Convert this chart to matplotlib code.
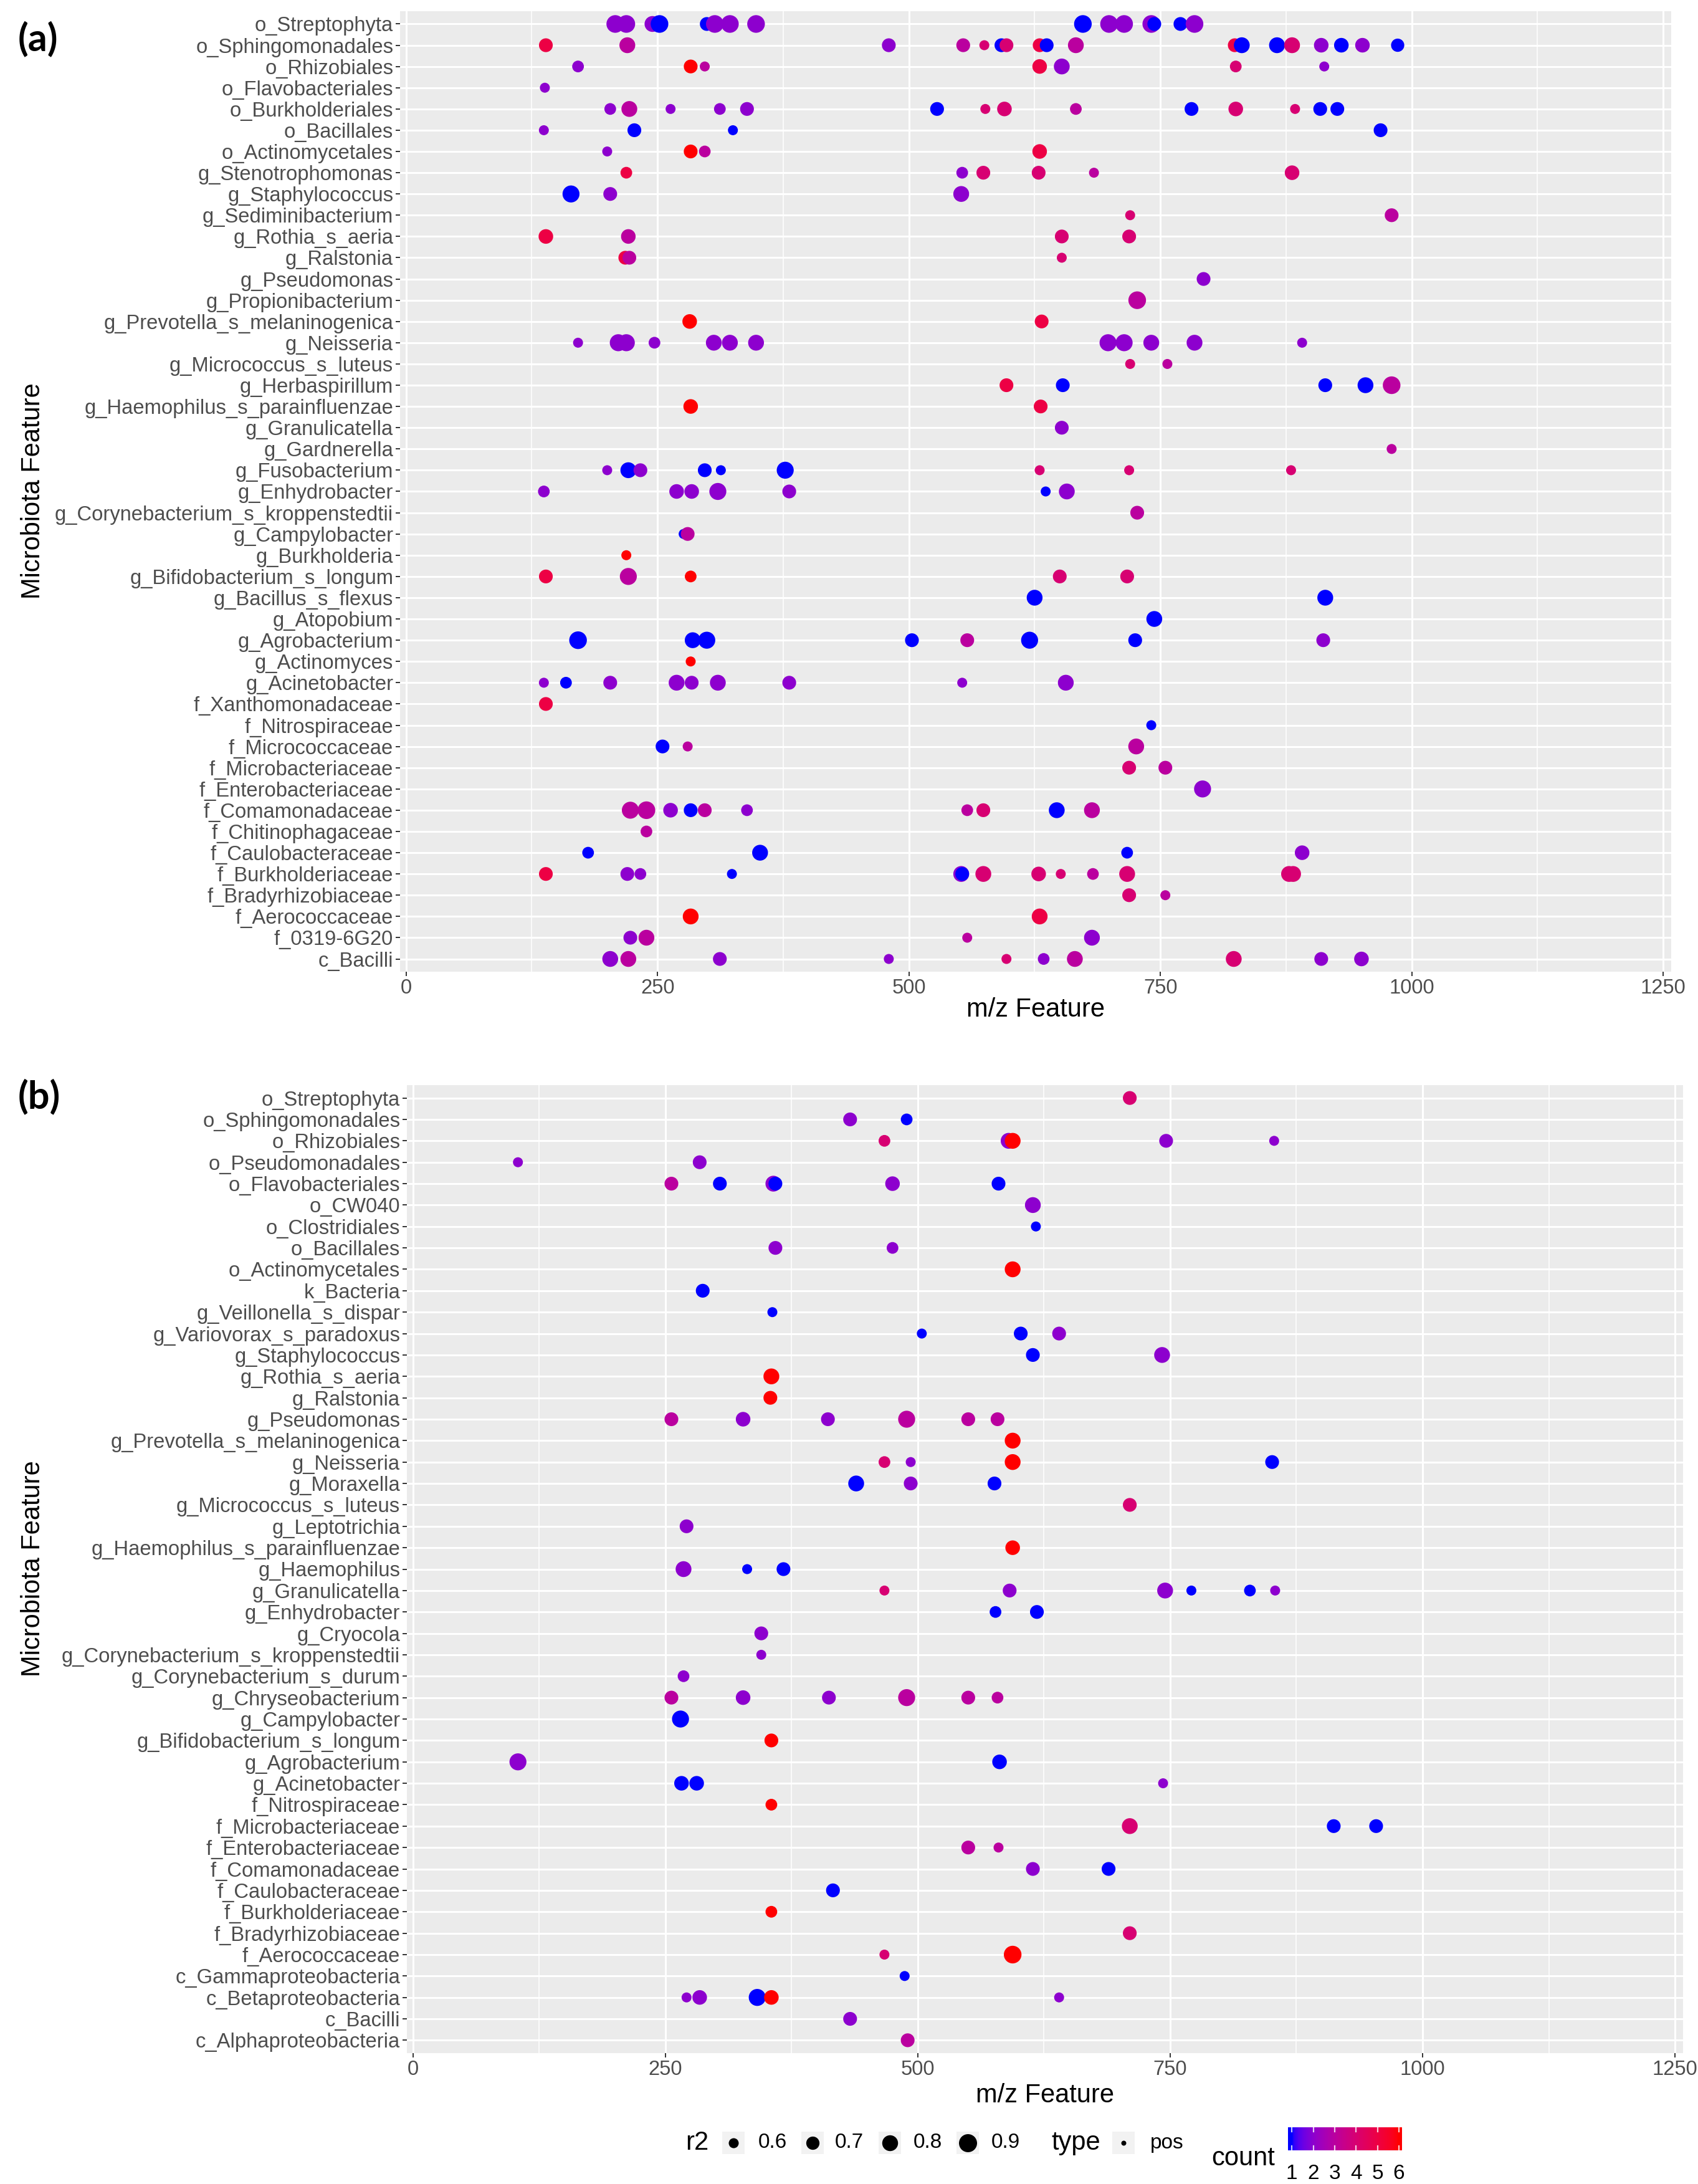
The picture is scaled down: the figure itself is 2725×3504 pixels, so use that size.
import numpy as np
import matplotlib
matplotlib.use("Agg")
import matplotlib.pyplot as plt
import matplotlib.colors as mcolors

plt.rcParams['font.family'] = ['Liberation Sans', 'DejaVu Sans']

# ---------------- panel (a) ----------------
a_labels = ['o_Streptophyta', 'o_Sphingomonadales', 'o_Rhizobiales', 'o_Flavobacteriales',
            'o_Burkholderiales', 'o_Bacillales', 'o_Actinomycetales', 'g_Stenotrophomonas',
            'g_Staphylococcus', 'g_Sediminibacterium', 'g_Rothia_s_aeria', 'g_Ralstonia',
            'g_Pseudomonas', 'g_Propionibacterium', 'g_Prevotella_s_melaninogenica', 'g_Neisseria',
            'g_Micrococcus_s_luteus', 'g_Herbaspirillum', 'g_Haemophilus_s_parainfluenzae',
            'g_Granulicatella', 'g_Gardnerella', 'g_Fusobacterium', 'g_Enhydrobacter',
            'g_Corynebacterium_s_kroppenstedtii', 'g_Campylobacter', 'g_Burkholderia',
            'g_Bifidobacterium_s_longum', 'g_Bacillus_s_flexus', 'g_Atopobium', 'g_Agrobacterium',
            'g_Actinomyces', 'g_Acinetobacter', 'f_Xanthomonadaceae', 'f_Nitrospiraceae',
            'f_Micrococcaceae', 'f_Microbacteriaceae', 'f_Enterobacteriaceae', 'f_Comamonadaceae',
            'f_Chitinophagaceae', 'f_Caulobacteraceae', 'f_Burkholderiaceae', 'f_Bradyrhizobiaceae',
            'f_Aerococcaceae', 'f_0319-6G20', 'c_Bacilli']

# number of points drawn on each row (top to bottom)
a_npts = [15, 18, 7, 1, 14, 4, 4, 6, 3, 2, 4, 3, 1, 1, 2, 12, 2, 5, 2, 1, 1, 9, 7,
          1, 2, 1, 5, 2, 1, 8, 1, 9, 1, 1, 3, 2, 1, 10, 1, 4, 13, 2, 2, 4, 10]

a_mz = [208, 219, 245, 252, 299, 307, 322, 348, 673, 699, 714, 741, 744, 770, 784,
        139, 220, 480, 554, 575, 592, 597, 630, 637, 666, 824, 831, 866, 881, 910, 930, 951, 986,
        171, 283, 297, 630, 652, 825, 913,
        138,
        203, 222, 263, 312, 339, 528, 576, 595, 666, 781, 825, 884, 909, 926,
        137, 227, 325, 969,
        200, 283, 297, 630,
        219, 553, 574, 629, 684, 881,
        164, 203, 552,
        720, 980,
        139, 221, 652, 719,
        218, 222, 652,
        793,
        727,
        282, 632,
        171, 211, 219, 247, 306, 322, 348, 698, 714, 741, 784, 891,
        720, 757,
        597, 653, 914, 954, 980,
        283, 631,
        652,
        980,
        200, 221, 233, 297, 313, 377, 630, 719, 880,
        137, 269, 284, 310, 381, 636, 657,
        727,
        276, 280,
        219,
        139, 221, 283, 650, 717,
        625, 914,
        744,
        171, 285, 299, 503, 558, 620, 725, 912,
        283,
        137, 159, 203, 269, 284, 310, 381, 553, 656,
        139,
        741,
        255, 280, 726,
        719, 755,
        792,
        223, 239, 263, 283, 297, 339, 558, 574, 647, 682,
        239,
        181, 352, 717, 891,
        139, 220, 233, 324, 552, 553, 574, 629, 651, 683, 717, 878, 882,
        719, 755,
        283, 630,
        223, 239, 558, 682,
        203, 221, 312, 480, 597, 634, 665, 823, 910, 950]

a_r2 = [.88, .88, .8, .88, .72, .88, .88, .88, .88, .88, .88, .88, .72, .72, .88,
        .72, .8, .72, .72, .6, .72, .72, .72, .72, .8, .72, .8, .8, .8, .75, .75, .75, .7,
        .65, .72, .6, .75, .8, .65, .6,
        .6,
        .65, .8, .6, .65, .72, .72, .6, .75, .65, .72, .75, .6, .72, .72,
        .6, .72, .6, .72,
        .6, .72, .65, .75,
        .65, .65, .72, .72, .6, .75,
        .85, .72, .8,
        .6, .72,
        .75, .75, .72, .72,
        .72, .72, .6,
        .72,
        .88,
        .75, .72,
        .6, .85, .85, .65, .8, .8, .8, .85, .85, .8, .8, .6,
        .6, .6,
        .72, .72, .72, .8, .88,
        .75, .72,
        .72,
        .6,
        .6, .8, .72, .72, .6, .85, .6, .6, .6,
        .65, .75, .75, .85, .72, .6, .8,
        .72,
        .6, .72,
        .6,
        .72, .85, .65, .72, .72,
        .8, .8,
        .8,
        .88, .8, .85, .72, .72, .85, .72, .72,
        .6,
        .6, .65, .72, .8, .72, .8, .72, .6, .8,
        .72,
        .6,
        .72, .6, .8,
        .72, .72,
        .85,
        .85, .88, .75, .72, .72, .65, .65, .72, .8, .8,
        .65,
        .65, .8, .65, .75,
        .72, .72, .65, .6, .8, .72, .8, .75, .6, .65, .8, .8, .8,
        .72, .6,
        .8, .8,
        .72, .8, .6, .8,
        .8, .8, .72, .6, .6, .65, .8, .8, .72, .75]

a_count = [2, 2, 2, 1, 1, 2, 2, 2, 1, 2, 2, 2, 1, 1, 2,
           5, 3, 2, 3, 4, 1, 4, 5, 1, 3, 5, 1, 1, 4, 2, 1, 2, 1,
           2, 6, 3, 5, 2, 4, 2,
           2,
           2, 3, 2, 2, 2, 1, 4, 4, 3, 1, 4, 4, 1, 1,
           2, 1, 1, 1,
           2, 6, 3, 5,
           5, 2, 4, 4, 3, 4,
           1, 2, 2,
           4, 3,
           5, 3, 4, 4,
           5, 3, 4,
           2,
           3,
           6, 5,
           2, 2, 2, 2, 2, 2, 2, 2, 2, 2, 2, 2,
           4, 3,
           5, 1, 1, 1, 3,
           6, 5,
           2,
           3,
           2, 1, 2, 1, 1, 1, 4, 4, 4,
           2, 2, 2, 2, 2, 1, 2,
           3,
           1, 3,
           6,
           5, 3, 6, 4, 4,
           1, 1,
           1,
           1, 1, 1, 1, 3, 1, 1, 2,
           6,
           2, 1, 2, 2, 2, 2, 2, 2, 2,
           5,
           1,
           1, 3, 3,
           4, 3,
           2,
           3, 3, 2, 1, 3, 2, 3, 4, 1, 3,
           3,
           1, 1, 1, 2,
           5, 2, 2, 1, 2, 1, 4, 4, 4, 3, 4, 4, 4,
           4, 3,
           6, 5,
           2, 3, 3, 2,
           2, 3, 2, 2, 4, 2, 3, 4, 2, 2]

# ---------------- panel (b) ----------------
b_labels = ['o_Streptophyta', 'o_Sphingomonadales', 'o_Rhizobiales', 'o_Pseudomonadales',
            'o_Flavobacteriales', 'o_CW040', 'o_Clostridiales', 'o_Bacillales', 'o_Actinomycetales',
            'k_Bacteria', 'g_Veillonella_s_dispar', 'g_Variovorax_s_paradoxus', 'g_Staphylococcus',
            'g_Rothia_s_aeria', 'g_Ralstonia', 'g_Pseudomonas', 'g_Prevotella_s_melaninogenica',
            'g_Neisseria', 'g_Moraxella', 'g_Micrococcus_s_luteus', 'g_Leptotrichia',
            'g_Haemophilus_s_parainfluenzae', 'g_Haemophilus', 'g_Granulicatella', 'g_Enhydrobacter',
            'g_Cryocola', 'g_Corynebacterium_s_kroppenstedtii', 'g_Corynebacterium_s_durum',
            'g_Chryseobacterium', 'g_Campylobacter', 'g_Bifidobacterium_s_longum', 'g_Agrobacterium',
            'g_Acinetobacter', 'f_Nitrospiraceae', 'f_Microbacteriaceae', 'f_Enterobacteriaceae',
            'f_Comamonadaceae', 'f_Caulobacteraceae', 'f_Burkholderiaceae', 'f_Bradyrhizobiaceae',
            'f_Aerococcaceae', 'c_Gammaproteobacteria', 'c_Betaproteobacteria', 'c_Bacilli',
            'c_Alphaproteobacteria']

b_npts = [1, 2, 5, 2, 6, 1, 1, 2, 1, 1, 1, 3, 2, 1, 1, 6, 1, 4, 3, 1, 1, 1, 3,
          6, 2, 1, 1, 1, 6, 1, 1, 2, 3, 1, 3, 2, 2, 1, 1, 1, 2, 1, 5, 1, 1]

b_mz = [710,
        433, 489,
        467, 590, 594, 746, 853,
        104, 284,
        256, 304, 357, 359, 475, 580,
        614,
        617,
        359, 475,
        594,
        287,
        356,
        504, 602, 640,
        614, 742,
        355,
        354,
        256, 327, 411, 489, 550, 579,
        594,
        467, 493, 594, 851,
        439, 493, 576,
        710,
        271,
        594,
        268, 331, 367,
        467, 591, 745, 771, 829, 854,
        577, 618,
        345,
        345,
        268,
        256, 327, 412, 489, 550, 579,
        265,
        355,
        104, 581,
        266, 281, 743,
        355,
        710, 912, 954,
        550, 580,
        614, 689,
        416,
        355,
        710,
        467, 594,
        487,
        271, 284, 341, 355, 640,
        433,
        490]

b_r2 = [.72,
        .72, .65,
        .65, .8, .8, .72, .6,
        .6, .72,
        .72, .72, .8, .72, .75, .72,
        .8,
        .6,
        .72, .65,
        .8,
        .72,
        .6,
        .6, .72, .72,
        .72, .8,
        .8,
        .72,
        .72, .75, .72, .85, .72, .72,
        .8,
        .65, .6, .8, .72,
        .8, .72, .72,
        .72,
        .72,
        .75,
        .8, .6, .72,
        .6, .72, .8, .6, .65, .6,
        .65, .72,
        .72,
        .6,
        .65,
        .72, .75, .72, .85, .72, .65,
        .85,
        .72,
        .85, .75,
        .75, .75, .6,
        .65,
        .8, .72, .72,
        .72, .6,
        .72, .72,
        .72,
        .65,
        .72,
        .6, .88,
        .6,
        .6, .75, .85, .75, .6,
        .72,
        .72]

b_count = [4,
           2, 1,
           4, 2, 6, 2, 2,
           2, 2,
           3, 1, 2, 1, 2, 1,
           2,
           1,
           2, 2,
           6,
           1,
           1,
           1, 1, 2,
           1, 2,
           6,
           6,
           3, 2, 2, 3, 3, 3,
           6,
           4, 2, 6, 1,
           1, 2, 1,
           4,
           2,
           6,
           2, 1, 1,
           4, 2, 2, 1, 1, 2,
           1, 1,
           2,
           2,
           2,
           3, 2, 2, 3, 3, 3,
           1,
           6,
           2, 1,
           1, 1, 2,
           6,
           4, 1, 1,
           3, 3,
           2, 1,
           1,
           6,
           4,
           4, 6,
           1,
           2, 2, 1, 6, 2,
           2,
           3]

# legend values
r2_breaks = [0.6, 0.7, 0.8, 0.9]
count_breaks = [1, 2, 3, 4, 5, 6]


# blue -> red gradient interpolated in Lab space (like ggplot's default gradient)
WHITE = np.array([0.95047, 1.0, 1.08883])
M_RGB2XYZ = np.array([[0.4124, 0.3576, 0.1805],
                      [0.2126, 0.7152, 0.0722],
                      [0.0193, 0.1192, 0.9505]])

def to_lab(c):
    rgb = np.array(mcolors.to_rgb(c))
    lin = np.where(rgb <= 0.04045, rgb / 12.92, ((rgb + 0.055) / 1.055) ** 2.4)
    xyz = M_RGB2XYZ @ lin / WHITE
    d = 6 / 29
    f = np.where(xyz > d ** 3, np.cbrt(xyz), xyz / (3 * d * d) + 4 / 29)
    return np.array([116 * f[1] - 16, 500 * (f[0] - f[1]), 200 * (f[1] - f[2])])

def from_lab(lab):
    fy = (lab[0] + 16) / 116
    f = np.array([fy + lab[1] / 500, fy, fy - lab[2] / 200])
    d = 6 / 29
    xyz = np.where(f > d, f ** 3, 3 * d * d * (f - 4 / 29)) * WHITE
    lin = np.clip(np.linalg.solve(M_RGB2XYZ, xyz), 0, 1)
    return np.where(lin <= 0.0031308, 12.92 * lin, 1.055 * lin ** (1 / 2.4) - 0.055).clip(0, 1)

lab_lo, lab_hi = to_lab('blue'), to_lab('red')
grad = [from_lab(lab_lo + t * (lab_hi - lab_lo)) for t in np.linspace(0, 1, 256)]
cmap = mcolors.LinearSegmentedColormap.from_list('blue_red_lab', grad)
norm = mcolors.Normalize(vmin=1, vmax=6)

W, H, DPI = 2725, 3504, 200

def size_of(r2):
    # area grows linearly with r2: 16 px across at 0.6, 29 px at 0.9
    d_px = np.sqrt(16 ** 2 + (np.asarray(r2) - 0.6) / 0.3 * (29 ** 2 - 16 ** 2))
    return (d_px * 72 / DPI) ** 2

def box(x0, y0, x1, y1):
    return [x0 / W, 1 - y1 / H, (x1 - x0) / W, (y1 - y0) / H]

def draw_panel(ax, labels, npts, mz, r2, count):
    assert len(mz) == len(r2) == len(count) == sum(npts)
    rows = np.repeat(np.arange(len(labels)), npts)
    ax.set_facecolor('#EBEBEB')
    ax.scatter(mz, rows, s=size_of(r2), c=count, cmap=cmap, norm=norm,
               linewidths=0, zorder=3)
    ax.set_xlim(-6, 1258)
    ax.set_ylim(len(labels) - 0.4, -0.6)
    ax.set_xticks([0, 250, 500, 750, 1000, 1250])
    ax.set_xticks([125, 375, 625, 875, 1125], minor=True)
    ax.set_yticks(np.arange(len(labels)))
    ax.set_yticklabels(labels)
    ax.set_axisbelow(True)
    ax.grid(which='major', color='white', lw=1.1)
    ax.xaxis.grid(True, which='minor', color='white', lw=0.55)
    for sp in ax.spines.values():
        sp.set_visible(False)
    ax.tick_params(which='major', length=2.4, width=0.7, color='#333333',
                   labelcolor='#4D4D4D', labelsize=11.8, pad=1.5)
    ax.tick_params(which='minor', length=0)


fig = plt.figure(figsize=(W / DPI, H / DPI), dpi=DPI)

ax_a = fig.add_axes(box(642, 18, 2682, 1559))
draw_panel(ax_a, a_labels, a_npts, a_mz, a_r2, a_count)
ax_b = fig.add_axes(box(653, 1741, 2701, 3294))
draw_panel(ax_b, b_labels, b_npts, b_mz, b_r2, b_count)

def px(x, y):
    return x / W, 1 - y / H

# axis titles and panel letters
fig.text(*px(1662, 1620), 'm/z Feature', fontsize=15, ha='center', va='center')
fig.text(*px(1677, 3362), 'm/z Feature', fontsize=15, ha='center', va='center')
fig.text(*px(53, 788), 'Microbiota Feature', fontsize=15, rotation=90, ha='center', va='center')
fig.text(*px(53, 2517), 'Microbiota Feature', fontsize=15, rotation=90, ha='center', va='center')
fig.text(*px(29, 62), '(a)', fontsize=22, fontweight='bold', family=['Lato', 'DejaVu Sans'],
         ha='left', va='center')
fig.text(*px(29, 1759), '(b)', fontsize=22, fontweight='bold', family=['Lato', 'DejaVu Sans'],
         ha='left', va='center')

# legend drawn in pixel coordinates
leg = fig.add_axes([0, 0, 1, 1], zorder=-1)
leg.set_xlim(0, W)
leg.set_ylim(H, 0)
leg.axis('off')

row_y = 3438
fig.text(*px(1100, row_y), 'r2', fontsize=15, ha='left', va='center')
key_x = [1177, 1304, 1428, 1553]
lab_x = [1217, 1340, 1466, 1591]
for kx, tx, v in zip(key_x, lab_x, r2_breaks):
    leg.add_patch(plt.Rectangle((kx - 18, row_y - 18), 36, 36, color='#F2F2F2', lw=0))
    leg.scatter([kx], [row_y], s=size_of(v), color='black', linewidths=0)
    fig.text(*px(tx, row_y), f'{v:.1f}', fontsize=12, ha='left', va='center')

fig.text(*px(1687, row_y), 'type', fontsize=15, ha='left', va='center')
leg.add_patch(plt.Rectangle((1785, row_y - 18), 36, 36, color='#F2F2F2', lw=0))
leg.scatter([1803], [row_y], s=(8 * 72 / DPI) ** 2, color='black', linewidths=0)
fig.text(*px(1846, row_y), 'pos', fontsize=12, ha='left', va='center')

fig.text(*px(1944, 3463), 'count', fontsize=15, ha='left', va='center')
cax = fig.add_axes(box(2067, 3413, 2250, 3450))
lo, hi = 0.82, 6.15
cax.imshow(np.linspace(lo, hi, 300)[None, :], aspect='auto', cmap=cmap, norm=norm,
           extent=[lo, hi, 0, 1])
cax.set_xlim(lo, hi)
cax.set_ylim(0, 1)
cax.axis('off')
for v in count_breaks:
    cax.plot([v, v], [0, 0.2], color='white', lw=0.8, alpha=0.8)
    cax.plot([v, v], [0.8, 1], color='white', lw=0.8, alpha=0.8)
    cax.text(v, -1.0, str(v), fontsize=12, ha='center', va='center', clip_on=False)

fig.savefig('out.png', dpi=DPI)
